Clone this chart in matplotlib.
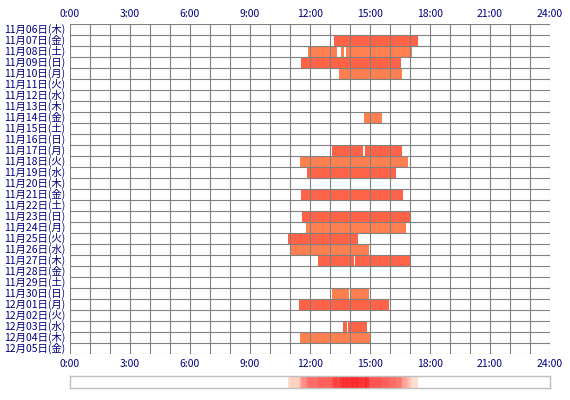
import matplotlib
matplotlib.use("Agg")
import matplotlib.pyplot as plt
import numpy as np

plt.rcParams['font.family'] = ['Noto Sans CJK JP', 'DejaVu Sans']

# ---- data ----
day_labels = [
    "11月06日(木)", "11月07日(金)", "11月08日(土)", "11月09日(日)", "11月10日(月)",
    "11月11日(火)", "11月12日(水)", "11月13日(木)", "11月14日(金)", "11月15日(土)",
    "11月16日(日)", "11月17日(月)", "11月18日(火)", "11月19日(水)", "11月20日(木)",
    "11月21日(金)", "11月22日(土)", "11月23日(日)", "11月24日(月)", "11月25日(火)",
    "11月26日(水)", "11月27日(木)", "11月28日(金)", "11月29日(土)", "11月30日(日)",
    "12月01日(月)", "12月02日(火)", "12月03日(水)", "12月04日(木)", "12月05日(金)",
]
# activity segments (start hour, end hour) per day label
sessions = {
    "11月07日(金)": [(13.2, 17.4)],
    "11月08日(土)": [(11.9, 13.35), (13.55, 13.7), (13.8, 17.08)],
    "11月09日(日)": [(11.55, 16.53)],
    "11月10日(月)": [(13.45, 16.6)],
    "11月14日(金)": [(14.7, 15.58)],
    "11月17日(月)": [(13.1, 14.65), (14.75, 16.6)],
    "11月18日(火)": [(11.5, 16.9)],
    "11月19日(水)": [(11.85, 16.3)],
    "11月21日(金)": [(11.55, 16.65)],
    "11月23日(日)": [(11.6, 17.0)],
    "11月24日(月)": [(11.8, 16.8)],
    "11月25日(火)": [(10.9, 14.4)],
    "11月26日(水)": [(11.0, 14.95)],
    "11月27日(木)": [(12.4, 14.2), (14.25, 17.0)],
    "11月30日(日)": [(13.1, 13.95), (14.05, 14.95)],
    "12月01日(月)": [(11.45, 15.95)],
    "12月03日(水)": [(13.65, 13.85), (13.9, 14.85)],
    "12月04日(木)": [(11.5, 15.0)],
}
hour_ticks = [0, 3, 6, 9, 12, 15, 18, 21, 24]
hour_labels = ["0:00", "3:00", "6:00", "9:00", "12:00", "15:00", "18:00", "21:00", "24:00"]

# ---- figure ----
W, H = 570, 400
fig = plt.figure(figsize=(W / 100, H / 100), dpi=100)
fig.patch.set_facecolor("white")

gl, gr, gt, gb = 70, 550, 24, 354
ax = fig.add_axes([gl / W, 1 - gb / H, (gr - gl) / W, (gb - gt) / H])
n = len(day_labels)
ax.set_xlim(0, 24)
ax.set_ylim(n, 0)

colors = ["#FF7F50", "#FF6347"]
for i, lab in enumerate(day_labels):
    for (s, e) in sessions.get(lab, []):
        ax.barh(i + 0.5, e - s, left=s, height=1.0, color=colors[i % 2],
                edgecolor="none", zorder=2)

gridc = "#808080"
lw = 0.8
for h in range(0, 25):
    ax.axvline(h, color=gridc, lw=lw, zorder=3)
for r in range(0, n + 1):
    ax.axhline(r, color=gridc, lw=lw, zorder=3)
for sp in ax.spines.values():
    sp.set_visible(False)

ax.set_xticks([])
ax.set_yticks([])

txtc = "#000080"
fs = 7.5
for i, lab in enumerate(day_labels):
    ax.text(-0.25, i + 0.5, lab, ha="right", va="center", fontsize=fs, color=txtc,
            clip_on=False)
for h, l in zip(hour_ticks, hour_labels):
    fig.text((gl + h * 20) / W, 1 - 14 / H, l, ha="center", va="center", fontsize=fs, color=txtc)
    fig.text((gl + h * 20) / W, 1 - 364 / H, l, ha="center", va="center", fontsize=fs, color=txtc)

# ---- heat strip ----
st, sb = 376, 388
ax2 = fig.add_axes([gl / W, 1 - sb / H, (gr - gl) / W, (sb - st) / H])
bins = 24 * 60
edges = np.linspace(0, 24, bins + 1)
centers = (edges[:-1] + edges[1:]) / 2
counts = np.zeros(bins)
for segs in sessions.values():
    for (s, e) in segs:
        counts += (centers >= s) & (centers < e)
img = np.ones((1, bins, 3))
low = np.array([255, 222, 205]) / 255
high = np.array([255, 40, 40]) / 255
mx = counts.max()
for k in range(bins):
    if counts[k] > 0:
        t = (counts[k] - 1) / (mx - 1)
        img[0, k] = low + (high - low) * t
ax2.imshow(img, aspect="auto", extent=[0, 24, 0, 1], interpolation="nearest")
ax2.set_xlim(0, 24)
ax2.set_ylim(0, 1)
ax2.set_xticks([])
ax2.set_yticks([])
for sp in ax2.spines.values():
    sp.set_color("#C0C0C0")
    sp.set_linewidth(1.0)

fig.savefig("out.png", dpi=100, facecolor="white")
